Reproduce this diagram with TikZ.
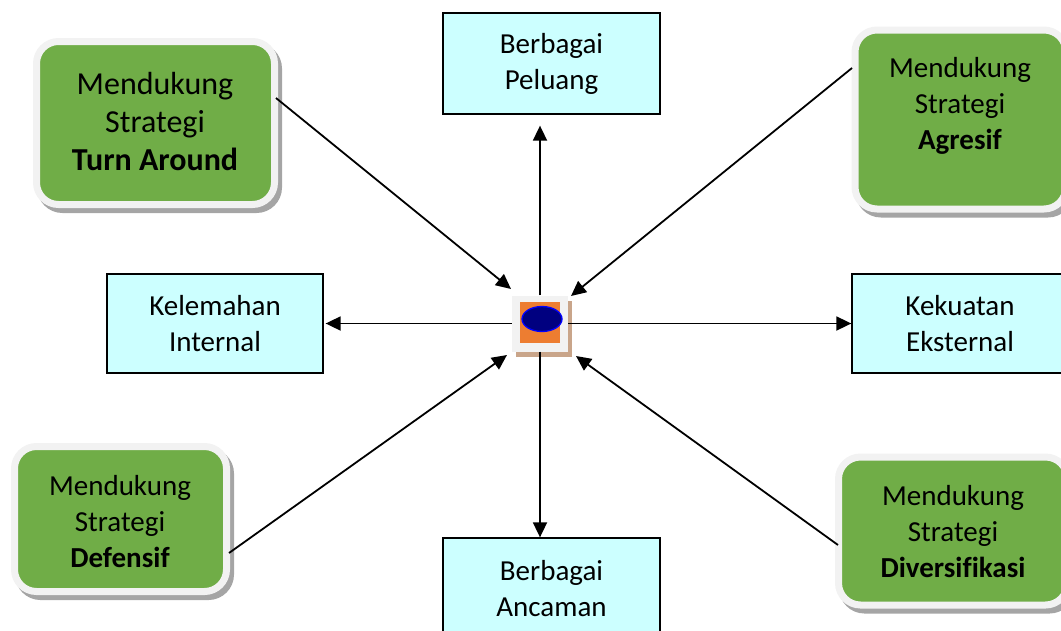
\documentclass[tikz,border=0pt]{standalone}
\usepackage{fontspec}
\setmainfont{Carlito}[Ligatures=NoCommon]
\usetikzlibrary{arrows.meta,shadows,shapes.geometric}
\definecolor{gfill}{HTML}{70AD47}
\definecolor{bfill}{HTML}{CCFFFF}
\definecolor{framec}{HTML}{F2F2F2}
\definecolor{shad}{HTML}{A5A5A5}
\definecolor{orng}{HTML}{ED7D31}
\definecolor{navyc}{HTML}{000080}
\definecolor{tanc}{HTML}{C9A58A}
\begin{document}
\begin{tikzpicture}[x=1pt,y=-1pt,
  txt/.style={font=\fontsize{29}{36}\selectfont, align=center, inner sep=0pt},
  bigtxt/.style={font=\fontsize{32}{38}\selectfont, align=center, inner sep=0pt},
  bluebox/.style={txt, draw=black, line width=1.3pt, fill=bfill},
  greenbox/.style={fill=gfill, draw=framec, line width=7pt, rounded corners=22pt, inner sep=0pt,
    drop shadow={shadow xshift=4pt, shadow yshift=-5pt, fill=shad, draw=shad, line width=7pt, opacity=1}},
  arr/.style={line width=1.8pt, -{Triangle[length=15pt,width=14pt]}}]
\useasboundingbox (0,0) rectangle (1061,630);

% light blue boxes
\node[bluebox, minimum width=217pt, minimum height=101pt] (pel) at (551.5,63.5) {Berbagai\\Peluang};
\node[bluebox, minimum width=217pt, minimum height=101pt] (anc) at (551.5,588.5) {Berbagai\\Ancaman};
\node[bluebox, minimum width=216pt, minimum height=99pt] (kel) at (215,323.5) {Kelemahan\\Internal};
\node[bluebox, minimum width=216pt, minimum height=99pt] (kek) at (960,323.5) {Kekuatan\\Eksternal};

% green boxes
\node[greenbox, minimum width=238pt, minimum height=163pt] (ta) at (155.5,123) {};
\node[bigtxt] (tat) at (155,122) {Mendukung\\Strategi\\\textbf{Turn Around}};
\node[greenbox, minimum width=211pt, minimum height=179pt] (ag) at (960.5,119.5) {};
\node[txt] (agt) at (960,106) {Mendukung\\Strategi\\\textbf{Agresif}};
\node[greenbox, minimum width=212pt, minimum height=145pt] (df) at (120.5,519) {};
\node[txt] (dft) at (120,522) {Mendukung\\Strategi\\\textbf{Defensif}};
\node[greenbox, minimum width=229pt, minimum height=148pt] (dv) at (953,531) {};
\node[txt] (dvt) at (953,532) {Mendukung\\Strategi\\\textbf{Diversifikasi}};

% center icon
\node[fill=framec, minimum size=56pt, inner sep=0pt,
  drop shadow={shadow xshift=4pt, shadow yshift=-5pt, fill=tanc, opacity=1}] (c) at (540,323.5) {};
\node[fill=orng, minimum width=40pt, minimum height=41pt, inner sep=0pt] (co) at (540,322.5) {};
\node[ellipse, fill=navyc, draw=blue, line width=1.3pt, minimum width=40pt, minimum height=25pt, inner sep=0pt] (ce) at (542,319) {};

% coordinates
\coordinate (taS) at (276,98);
\coordinate (agS) at (852,68);
\coordinate (dfS) at (229,553);
\coordinate (dvS) at (838,545);
\coordinate (tlE) at (511,289);
\coordinate (trE) at (571,296);
\coordinate (blE) at (507,355);
\coordinate (brE) at (576,356);

% arrows from center
\draw[arr] (c.north) -- ([yshift=-11pt]c.north |- pel.south);
\draw[arr] (c.south) -- (c.south |- anc.north);
\draw[arr] (c.west) -- ([xshift=2pt]kel.east);
\draw[arr] (c.east) -- (kek.west);

% arrows into center
\draw[arr] (taS) -- (tlE);
\draw[arr] (agS) -- (trE);
\draw[arr] (dfS) -- (blE);
\draw[arr] (dvS) -- (brE);
\end{tikzpicture}
\end{document}
